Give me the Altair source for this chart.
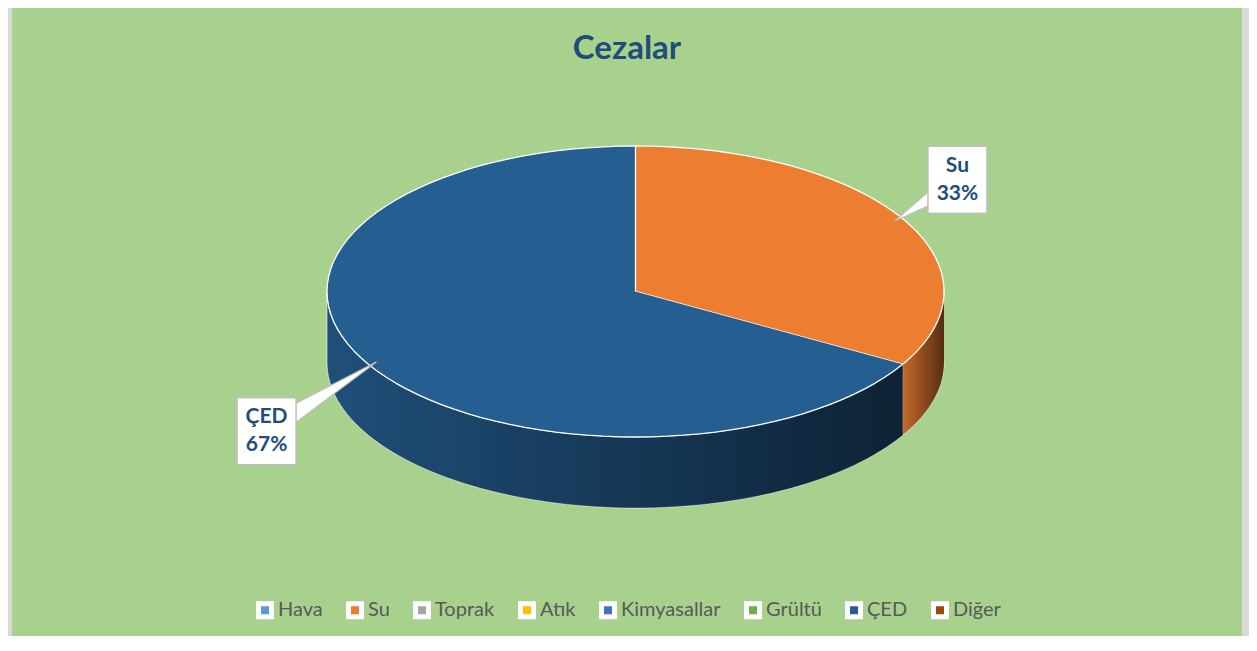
import altair as alt
import pandas as pd

# ---------------- data ----------------
categories = ["Hava", "Su", "Toprak", "Atık", "Kimyasallar", "Grültü", "ÇED", "Diğer"]
values = [0, 1, 0, 0, 0, 0, 2, 0]
colors = ["#5b9bd5", "#ed7d31", "#a5a5a5", "#ffc000", "#4472c4", "#70ad47", "#255e91", "#9e480e"]
title_text = "Cezalar"

df = pd.DataFrame({"cat": categories, "value": values, "order": list(range(len(categories)))})
title_df = pd.DataFrame({"title": [title_text]})

# ---------------- layout constants (pixels) ----------------
W, H = 1230, 628            # plot (view) size
OX, OY = 12, 8              # page offset of the view
CX, CY = 635.5 - OX, 291.5 - OY
RX, RY = 308.5, 145.5
DEPTH = 71
N = 80
LFX, LFY = 1.293, 1.73      # label distance factors
LDX, LDY = -23.5, 14        # label anchor shift
BW, BH = 59, 67             # label box size
TIP = 0.97

color_scale = alt.Scale(domain=categories, range=colors)
x_scale = alt.Scale(domain=[0, W], nice=False, zero=False)
y_scale = alt.Scale(domain=[H, 0], nice=False, zero=False)
xs = alt.X("x:Q", scale=x_scale, axis=None)
ys = alt.Y("y:Q", scale=y_scale, axis=None)

legend = alt.Legend(
    title=None, orient="none", legendX=243, legendY=592,
    direction="horizontal", columns=8,
    symbolType="square", symbolSize=169, symbolStrokeColor="white",
    symbolStrokeWidth=5, symbolOpacity=1,
    labelFont="Lato", labelFontSize=20, labelColor="#595959",
    labelOffset=3, columnPadding=15,
)

base = (
    alt.Chart(df)
    .transform_filter("datum.value > 0")
    .transform_joinaggregate(total="sum(value)")
    .transform_window(cum="sum(value)", sort=[alt.SortField("order")])
    .transform_calculate(
        a0="2*PI*(datum.cum - datum.value)/datum.total",
        a1="2*PI*datum.cum/datum.total",
    )
)

# ---- side wall (front half only) ----
side = (
    base.transform_calculate(b0="max(datum.a0, PI/2)", b1="min(datum.a1, 3*PI/2)")
    .transform_filter("datum.b1 > datum.b0")
    .transform_calculate(t=f"sequence(0, {2 * N + 2})")
    .transform_flatten(["t"])
    .transform_calculate(
        ang=f"datum.t <= {N} ? datum.b0 + (datum.b1 - datum.b0)*datum.t/{N} : datum.b0 + (datum.b1 - datum.b0)*({2 * N + 1} - datum.t)/{N}",
        x=f"{CX} + {RX}*sin(datum.ang)",
        y=f"{CY} - {RY}*cos(datum.ang) + (datum.t > {N} ? {DEPTH} : 0)",
    )
)

side_fill = side.mark_line(stroke="white", strokeWidth=1, strokeOpacity=0.7, strokeJoin="round").encode(
    x=xs, y=ys, order=alt.Order("t:Q"), detail="cat:N",
    fill=alt.Fill("cat:N", scale=color_scale, legend=legend),
)

shade = alt.Gradient(
    gradient="linear", x1=0, y1=0, x2=1, y2=0,
    stops=[
        alt.GradientStop(offset=0, color="rgba(0,0,0,0.16)"),
        alt.GradientStop(offset=1, color="rgba(0,0,0,0.64)"),
    ],
)
side_shade = side.mark_line(fill=shade, strokeOpacity=0).encode(
    x=xs, y=ys, order=alt.Order("t:Q"), detail="cat:N",
)

# ---- top face ----
top = (
    base.transform_calculate(t=f"sequence(0, {N + 2})")
    .transform_flatten(["t"])
    .transform_calculate(
        ang=f"datum.a0 + (datum.a1 - datum.a0)*min(datum.t, {N})/{N}",
        x=f"datum.t > {N} ? {CX} : {CX} + {RX}*sin(datum.ang)",
        y=f"datum.t > {N} ? {CY} : {CY} - {RY}*cos(datum.ang)",
    )
    .mark_line(stroke="white", strokeWidth=1.3, strokeJoin="round")
    .encode(
        x=xs, y=ys, order=alt.Order("t:Q"), detail="cat:N",
        fill=alt.Fill("cat:N", scale=color_scale, legend=legend),
    )
)

# ---- data labels ----
lab = base.transform_calculate(
    mid="(datum.a0 + datum.a1)/2",
    lx=f"{CX + LDX} + {LFX}*{RX}*sin(datum.mid)",
    ly=f"{CY + LDY} - {LFY}*{RY}*cos(datum.mid)",
    tx=f"{CX} + {TIP}*{RX}*sin(datum.mid)",
    ty=f"{CY} - {TIP}*{RY}*cos(datum.mid)",
    label="[datum.cat, format(datum.value/datum.total, '.0%')]",
)

pointer = (
    lab.transform_calculate(t="sequence(0, 3)")
    .transform_flatten(["t"])
    .transform_calculate(
        x="datum.t == 1 ? datum.tx : datum.lx",
        y="datum.t == 0 ? datum.ly - 13 : (datum.t == 1 ? datum.ty : datum.ly + 13)",
    )
    .mark_line(fill="white", stroke="#bfbfbf", strokeWidth=1.2, strokeJoin="miter")
    .encode(x=xs, y=ys, order=alt.Order("t:Q"), detail="cat:N")
)

box = (
    lab.transform_calculate(
        x=f"datum.lx - {BW / 2}", x2=f"datum.lx + {BW / 2}",
        y=f"datum.ly - {BH / 2}", y2=f"datum.ly + {BH / 2}",
    )
    .mark_rect(fill="white", stroke="#bfbfbf", strokeWidth=1.5)
    .encode(x=xs, x2="x2:Q", y=ys, y2="y2:Q")
)

text = lab.mark_text(
    font="Lato", fontSize=21, fontWeight="bold", color="#1f4e79",
    lineHeight=28, baseline="middle", align="center", dy=-14,
).encode(
    x=alt.X("lx:Q", scale=x_scale, axis=None),
    y=alt.Y("ly:Q", scale=y_scale, axis=None),
    text="label:N",
)

title = alt.Chart(title_df).mark_text(
    font="Lato", fontSize=33, fontWeight="bold", color="#1f4e79",
    align="center", baseline="alphabetic",
).encode(
    x=alt.value(627 - OX), y=alt.value(59 - OY), text="title:N",
)

chart = (
    alt.layer(side_fill, side_shade, top, pointer, box, text, title)
    .properties(
        width=W, height=H,
        autosize=alt.AutoSizeParams(type="none"),
        padding={"left": 4, "top": 0, "right": 7, "bottom": 0},
        background="#d9d9d9",
    )
    .configure_view(fill="#a9d18e", strokeWidth=0)
)

chart.save("out.html", embed_options={"renderer": "svg", "actions": False})
